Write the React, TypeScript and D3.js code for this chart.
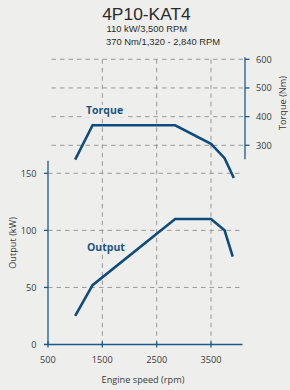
import React, { useEffect, useRef } from "react";
import * as d3 from "d3";

// engine curves
const rpmTicks = [500, 1500, 2500, 3500];
const kwTicks = [0, 50, 100, 150];
const nmTicks = [300, 400, 500, 600];

const torqueRpm = [1000, 1320, 2840, 3500, 3750, 3920];
const torqueNm = [250, 370, 370, 305, 255, 186];

const outputRpm = [1000, 1320, 2840, 3500, 3750, 3900];
const outputKw = [25, 52, 110, 110, 100, 77];

const BLUE = "#0e4c7e";
const AXIS = "#1c5a8c";
const FONT = "'Open Sans', sans-serif";
const HEAD_FONT = "'Liberation Sans', Arial, sans-serif";

const App = () => {
  const svgRef = useRef<SVGSVGElement>(null);

  useEffect(() => {
    if (!svgRef.current) return;
    const svg = d3.select(svgRef.current);
    svg.selectAll("*").remove();

    const x = d3.scaleLinear().domain([500, 3500]).range([48, 211]);
    const yKw = d3.scaleLinear().domain([0, 150]).range([344.5, 173.3]);
    const yNm = d3.scaleLinear().domain([300, 600]).range([145.3, 59.3]);

    svg.append("rect").attr("width", 290).attr("height", 390).attr("fill", "#eeefed");

    // titles
    svg.append("text").attr("x", 146.5).attr("y", 19.5).attr("text-anchor", "middle")
      .attr("font-family", HEAD_FONT).attr("font-size", "17.4px").attr("fill", "#2b2b2b")
      .text("4P10-KAT4");
    svg.append("text").attr("x", 106.5).attr("y", 31.8).attr("font-family", HEAD_FONT)
      .attr("font-size", "9.4px").attr("fill", "#2b2b2b").text("110 kW/3,500 RPM");
    svg.append("text").attr("x", 106).attr("y", 44.5).attr("font-family", HEAD_FONT)
      .attr("font-size", "9.4px").attr("fill", "#2b2b2b").text("370 Nm/1,320 - 2,840 RPM");

    const grid = svg.append("g").attr("stroke", "#8f8f8f").attr("stroke-width", 0.9)
      .attr("stroke-dasharray", "4.5,4");

    // vertical grid
    rpmTicks.slice(1).forEach(r => {
      grid.append("line").attr("x1", x(r)).attr("x2", x(r))
        .attr("y1", yNm(600)).attr("y2", yKw(0));
    });
    // torque grid
    nmTicks.forEach(n => {
      grid.append("line").attr("x1", 51.5).attr("x2", 245)
        .attr("y1", yNm(n)).attr("y2", yNm(n));
    });
    // output grid
    kwTicks.slice(1).forEach(k => {
      grid.append("line").attr("x1", 48).attr("x2", 243)
        .attr("y1", yKw(k)).attr("y2", yKw(k));
    });

    // axes
    const ax = svg.append("g").attr("stroke", AXIS).attr("stroke-width", 1.3).attr("fill", "none");
    ax.append("line").attr("x1", x(500)).attr("x2", x(500)).attr("y1", yKw(161)).attr("y2", yKw(0));
    ax.append("line").attr("x1", 44).attr("x2", x(4080)).attr("y1", yKw(0)).attr("y2", yKw(0));
    kwTicks.slice(1).forEach(k => {
      ax.append("line").attr("x1", 44).attr("x2", x(500)).attr("y1", yKw(k)).attr("y2", yKw(k));
    });
    rpmTicks.forEach(r => {
      ax.append("line").attr("x1", x(r)).attr("x2", x(r)).attr("y1", yKw(0) - 3).attr("y2", yKw(0) + 3);
    });
    ax.append("line").attr("x1", 245).attr("x2", 245).attr("y1", yNm(607)).attr("y2", yNm(251));
    nmTicks.forEach(n => {
      ax.append("line").attr("x1", 245).attr("x2", 249.5).attr("y1", yNm(n)).attr("y2", yNm(n));
    });

    // tick labels
    const lab = svg.append("g").attr("font-family", FONT).attr("font-size", "9.2px").attr("fill", "#3a3a3a");
    kwTicks.forEach(k => {
      lab.append("text").attr("x", 36.5).attr("y", yKw(k) + 3.3).attr("text-anchor", "end").text(k);
    });
    rpmTicks.forEach(r => {
      lab.append("text").attr("x", x(r)).attr("y", 363).attr("text-anchor", "middle").text(r);
    });
    nmTicks.forEach(n => {
      lab.append("text").attr("x", 256).attr("y", yNm(n) + 3.3).text(n);
    });
    lab.append("text").attr("x", 143).attr("y", 383).attr("text-anchor", "middle").text("Engine speed (rpm)");
    lab.append("text").attr("transform", "translate(286,103) rotate(-90)").attr("text-anchor", "middle")
      .text("Torque (Nm)");
    lab.append("text").attr("transform", "translate(15.5,243) rotate(-90)").attr("text-anchor", "middle")
      .text("Output (kW)");

    // curves
    const torqueLine = d3.line<number>().x((_, i) => x(torqueRpm[i])).y(d => yNm(d));
    const outputLine = d3.line<number>().x((_, i) => x(outputRpm[i])).y(d => yKw(d));
    svg.append("path").attr("d", torqueLine(torqueNm)).attr("fill", "none")
      .attr("stroke", BLUE).attr("stroke-width", 2.6).attr("stroke-linejoin", "miter");
    svg.append("path").attr("d", outputLine(outputKw)).attr("fill", "none")
      .attr("stroke", BLUE).attr("stroke-width", 2.6).attr("stroke-linejoin", "miter");

    // series labels
    [["Torque", 86, 114], ["Output", 87, 251]].forEach(([t, lx, ly]) => {
      const txt = svg.append("text").attr("x", lx as number).attr("y", ly as number)
        .attr("font-family", FONT).attr("font-size", "10.5px").attr("font-weight", "bold")
        .attr("fill", "#1c5482").text(t as string);
      const bb = (txt.node() as SVGTextElement).getBBox();
      svg.insert("rect", () => txt.node() as any)
        .attr("x", bb.x - 1).attr("y", bb.y + 2).attr("width", bb.width + 2).attr("height", bb.height - 2)
        .attr("fill", "#eeefed");
    });
  }, []);

  return (
    <svg ref={svgRef} width={290} height={390}
      style={{ position: "fixed", left: 0, top: 0, display: "block" }} />
  );
};

export default App;
